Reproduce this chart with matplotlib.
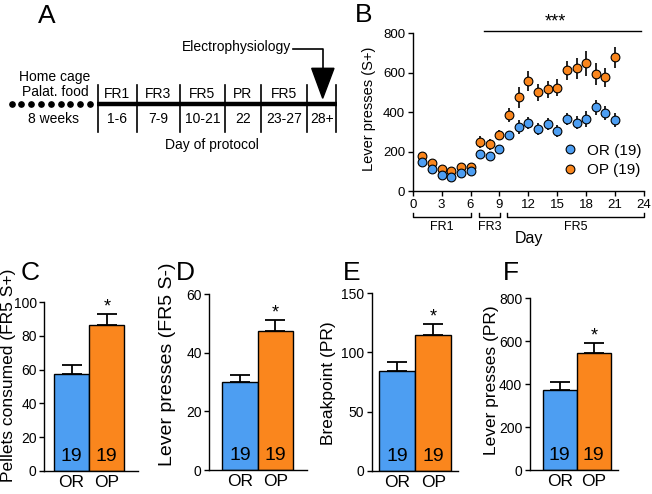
import matplotlib
matplotlib.use("Agg")
import matplotlib.pyplot as plt
from matplotlib.lines import Line2D
from matplotlib.patches import Polygon
import numpy as np

plt.rcParams['font.family'] = ['Liberation Sans', 'DejaVu Sans']

W, H = 652, 494

# ---------------- data ----------------
days = list(range(1, 22))
or_mean = [145, 112, 81, 73, 93, 101, 186, 178, 212, 284, 326, 343, 313, 340, 306, 365, 347, 367, 425, 396, 360]
or_sem = [15, 13, 12, 12, 12, 12, 20, 18, 22, 22, 35, 30, 30, 30, 30, 30, 35, 40, 38, 35, 35]
op_mean = [179, 140, 112, 103, 122, 122, 247, 237, 283, 385, 475, 557, 500, 515, 525, 612, 622, 647, 594, 576, 678]
op_sem = [15, 13, 12, 12, 12, 12, 30, 28, 25, 35, 55, 50, 45, 45, 42, 50, 55, 62, 55, 50, 55]

groups = ['OR', 'OP']
n_per_group = [19, 19]
pellets_mean = [57.5, 86.5]
pellets_sem = [5.0, 6.5]
leverS_minus_mean = [30.0, 47.3]
leverS_minus_sem = [2.3, 3.8]
breakpoint_mean = [84, 115]
breakpoint_sem = [7.5, 9.0]
leverPR_mean = [375, 545]
leverPR_sem = [35, 45]

stages = ['FR1', 'FR3', 'FR5', 'PR', 'FR5']
stage_days = ['1-6', '7-9', '10-21', '22', '23-27', '28+']
b_phases = [('FR1', 0, 6.1), ('FR3', 6.9, 9.1), ('FR5', 9.8, 24)]

BLUE = '#4d9ef2'
ORANGE = '#fa861d'

fig = plt.figure(figsize=(W / 100, H / 100), dpi=100)


def rect(x0, y0, x1, y1):
    return [x0 / W, 1 - y1 / H, (x1 - x0) / W, (y1 - y0) / H]


def letter(s, x, y):
    fig.text(x / W, 1 - y / H, s, fontsize=19, ha='left', va='baseline')


# ---------------- Panel A (schematic) ----------------
axA = fig.add_axes([0, 1 - 200 / H, 340 / W, 200 / H])
axA.set_xlim(0, 340)
axA.set_ylim(200, 0)
axA.axis('off')
ly = 104.3
dots_x = np.linspace(11.7, 90, 9)
axA.plot(dots_x, [ly] * len(dots_x), 'o', color='k', ms=3.8, clip_on=False)
axA.plot([96.7, 336.7], [ly, ly], color='k', lw=3.2, solid_capstyle='butt')
bounds = [97.7, 136.7, 180, 225, 261, 307.3, 336]
for bx in bounds:
    axA.plot([bx, bx], [85, 131.7], color='k', lw=1.2)
fsA = 10
for i, s in enumerate(stages):
    cx = (bounds[i] + bounds[i + 1]) / 2
    axA.text(cx, 98, s, ha='center', va='baseline', fontsize=fsA)
for i, s in enumerate(stage_days):
    cx = (bounds[i] + bounds[i + 1]) / 2
    axA.text(cx, 122.5, s, ha='center', va='baseline', fontsize=fsA)
axA.text(212, 148.5, 'Day of protocol', ha='center', va='baseline', fontsize=fsA)
axA.text(55, 81, 'Home cage', ha='center', va='baseline', fontsize=fsA)
axA.text(55, 95.5, 'Palat. food', ha='center', va='baseline', fontsize=fsA)
axA.text(54, 122.5, '8 weeks', ha='center', va='baseline', fontsize=fsA)
axA.text(291, 51.5, 'Electrophysiology', ha='right', va='baseline', fontsize=fsA)
axA.plot([293, 322.7, 322.7], [49, 49, 69], color='k', lw=1.2)
axA.add_patch(Polygon([[311.7, 68.3], [334, 68.3], [322.7, 98.3]], closed=True, color='k'))
letter('A', 38, 23)

# ---------------- Panel B ----------------
axB = fig.add_axes(rect(412.7, 33.3, 644, 191))
axB.errorbar(days, op_mean, yerr=op_sem, fmt='o', color=ORANGE, mec='k', mew=0.8, ms=6.3,
             ecolor='k', elinewidth=1.2, capsize=0, clip_on=False, zorder=3, label='OP (19)')
axB.errorbar(days, or_mean, yerr=or_sem, fmt='o', color=BLUE, mec='k', mew=0.8, ms=6.3,
             ecolor='k', elinewidth=1.2, capsize=0, clip_on=False, zorder=4, label='OR (19)')
axB.set_xlim(0, 24)
axB.set_ylim(0, 800)
axB.set_xticks(range(0, 25, 3))
axB.set_yticks(range(0, 801, 200))
for sp in ['top', 'right']:
    axB.spines[sp].set_visible(False)
for sp in ['left', 'bottom']:
    axB.spines[sp].set_linewidth(1.0)
axB.tick_params(direction='out', length=3.5, width=1.0, labelsize=9.5, pad=2)
axB.set_ylabel('Lever presses (S+)', fontsize=10.5)
axB.yaxis.set_label_coords(-0.16, 0.52)
tr = axB.get_xaxis_transform()
for name, a, b in b_phases:
    axB.plot([a, a, b, b], [-0.141, -0.163, -0.163, -0.141], color='k', lw=1.0,
             transform=tr, clip_on=False)
    axB.text((a + b) / 2, -0.192, name, ha='center', va='top', fontsize=9, transform=tr)
axB.text(12.07, -0.255, 'Day', ha='center', va='top', fontsize=11.5, transform=tr)
axB.plot([7.4, 23.7], [812, 812], color='k', lw=1.0, clip_on=False)
axB.text(14.8, 812, '***', ha='center', va='bottom', fontsize=13, clip_on=False)
h_or = Line2D([], [], marker='o', ls='none', color=BLUE, mec='k', mew=0.8, ms=6.3)
h_op = Line2D([], [], marker='o', ls='none', color=ORANGE, mec='k', mew=0.8, ms=6.3)
axB.legend([h_or, h_op], ['OR (19)', 'OP (19)'], loc='lower left',
           bbox_to_anchor=(0.6, 0.02), frameon=False, fontsize=11, handlelength=1.0,
           handletextpad=0.6, labelspacing=0.35, borderpad=0.2)
letter('B', 355, 21.7)


# ---------------- Bar panels ----------------
def bar_panel(box, means, sems, ylim, yticks, ylabel, ylab_fs, ylab_xy, xlim, let, let_xy):
    ax = fig.add_axes(rect(*box))
    x = np.arange(len(groups))
    ax.bar(x, means, width=1.0, color=[BLUE, ORANGE], edgecolor='k', linewidth=1.0, zorder=2)
    ax.errorbar(x, means, yerr=[[0] * len(sems), sems], fmt='none', ecolor='k',
                elinewidth=1.3, capsize=7, capthick=1.3, zorder=1)
    for xi, n in zip(x, n_per_group):
        ax.annotate(str(n), (xi, 0), xytext=(0, 4), textcoords='offset points',
                    ha='center', va='bottom', fontsize=14)
    ax.annotate('*', (1, means[1] + sems[1]), xytext=(0, -1), textcoords='offset points',
                ha='center', va='bottom', fontsize=13)
    ax.set_xlim(*xlim)
    ax.set_ylim(*ylim)
    ax.set_yticks(yticks)
    ax.set_xticks(x)
    ax.set_xticklabels(groups)
    for sp in ['top', 'right']:
        ax.spines[sp].set_visible(False)
    for sp in ['left', 'bottom']:
        ax.spines[sp].set_linewidth(1.0)
    ax.tick_params(axis='y', direction='out', length=3.5, width=1.0, labelsize=10, pad=2)
    ax.tick_params(axis='x', length=0, labelsize=12.5, pad=3)
    ax.set_ylabel(ylabel, fontsize=ylab_fs, va='center')
    ax.yaxis.set_label_coords(*ylab_xy)
    letter(let, *let_xy)
    return ax


bar_panel((44.3, 302, 138, 471), pellets_mean, pellets_sem, (0, 100), range(0, 101, 20),
          'Pellets consumed (FR5 S+)', 12.5, (-0.385, 0.565), (-0.775, 1.888), 'C', (21, 280))
bar_panel((209.3, 294.3, 306.7, 470), leverS_minus_mean, leverS_minus_sem, (0, 60), range(0, 61, 20),
          'Lever presses (FR5 S-)', 14, (-0.43, 0.60), (-0.857, 1.876), 'D', (176, 280))
bar_panel((371.7, 293.3, 458, 470.7), breakpoint_mean, breakpoint_sem, (0, 150), range(0, 151, 50),
          'Breakpoint (PR)', 12.5, (-0.50, 0.494), (-0.71, 1.69), 'E', (343, 280))
bar_panel((530, 298.3, 618, 470), leverPR_mean, leverPR_sem, (0, 800), range(0, 801, 200),
          'Lever presses (PR)', 12.5, (-0.44, 0.524), (-0.87, 1.71), 'F', (503, 280))

fig.savefig('out.png', dpi=100)
